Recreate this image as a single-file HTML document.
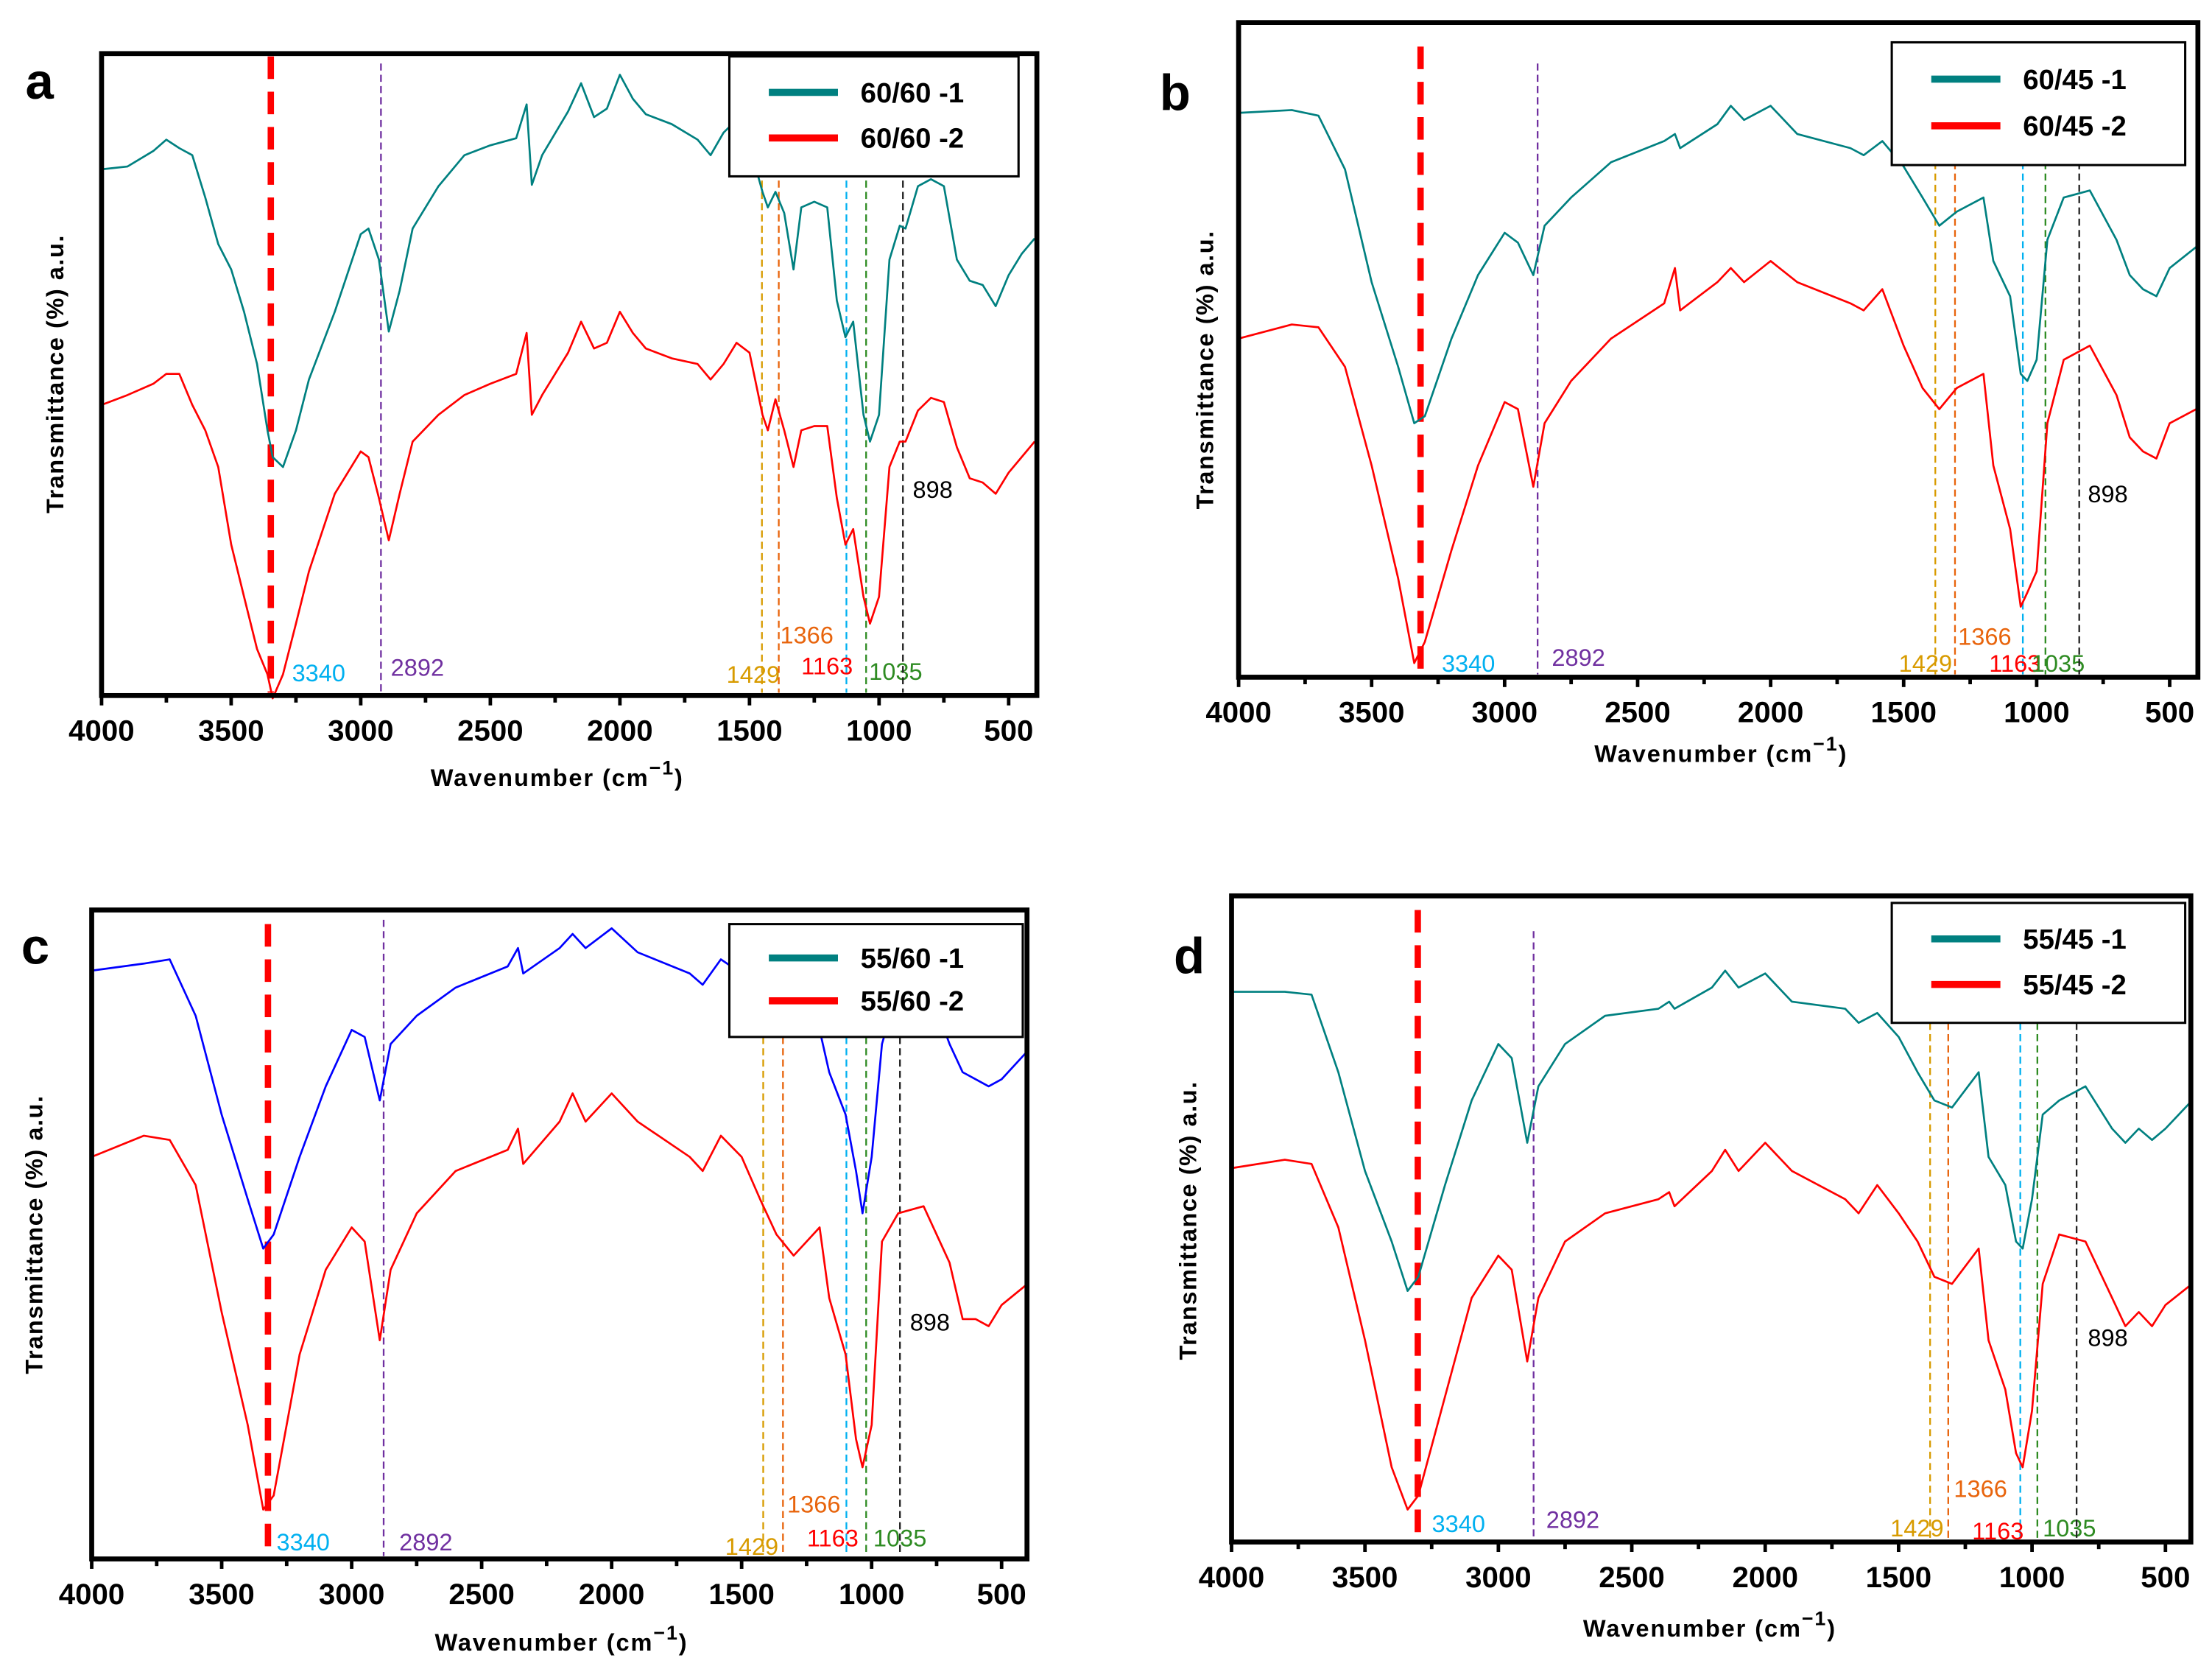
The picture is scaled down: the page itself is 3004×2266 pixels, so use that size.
<!DOCTYPE html>
<html><head><meta charset="utf-8">
<style>
html,body{margin:0;padding:0;background:#fff;}
svg{display:block;font-family:"Liberation Sans",Arial,sans-serif;}
</style></head>
<body>
<svg id="fig" width="3004" height="2266" viewBox="0 0 1568 1183" preserveAspectRatio="none" xmlns="http://www.w3.org/2000/svg"></svg>
<script>
// ---------- data ----------
const waveFine = [4000,3900,3800,3750,3700,3650,3600,3550,3500,3450,3400,3360,3340,3300,3250,3200,3100,3000,2970,2930,2892,2850,2800,2700,2600,2500,2400,2360,2340,2300,2200,2150,2100,2050,2000,1950,1900,1800,1700,1650,1600,1550,1500,1450,1429,1400,1366,1330,1300,1250,1200,1163,1130,1100,1060,1035,1000,960,920,898,850,800,750,700,650,600,550,500,450,400];
const aSeries1 = [373,375,386,394,388,383,353,320,302,272,235,188,169,162,188,224,272,327,331,309,258,287,331,361,383,390,395,419,362,383,414,434,410,416,440,423,412,405,394,383,399,408,390,357,346,357,342,302,346,350,346,280,254,265,199,180,199,309,333,331,361,366,361,309,294,291,276,298,313,324];
const aSeries2 = [206,213,221,228,228,206,188,162,107,70,33,15,-2,15,51,88,143,173,169,140,110,143,180,199,213,221,228,257,199,213,243,265,246,250,272,257,246,239,235,224,235,250,243,199,188,210,188,162,188,191,191,140,107,118,70,51,70,162,180,180,202,211,208,176,154,151,143,158,169,180];

const waveCoarse = [4000,3800,3700,3600,3500,3400,3340,3300,3200,3100,3000,2950,2892,2850,2750,2600,2400,2360,2340,2200,2150,2100,2000,1900,1700,1650,1580,1500,1429,1366,1300,1200,1163,1100,1060,1035,1000,960,898,800,700,650,600,550,500,400];
const bSeries1 = [400,402,398,360,280,220,180,185,240,285,315,308,285,320,340,365,380,385,375,392,405,395,405,385,375,370,380,362,340,320,330,340,295,270,215,210,225,310,340,345,310,285,275,270,290,305];
const bSeries2 = [240,250,248,220,150,70,10,25,90,150,195,190,135,180,210,240,265,290,260,280,290,280,295,280,265,260,275,235,205,190,205,215,150,105,50,60,75,180,225,235,200,170,160,155,180,190];
const cSeries1 = [417,422,425,385,315,255,220,230,285,335,375,370,325,365,385,405,420,433,415,433,443,433,447,430,415,407,425,415,395,385,375,375,345,315,275,245,285,365,405,415,365,345,340,335,340,360];
const cSeries2 = [285,300,297,265,175,95,35,45,145,205,235,225,155,205,245,275,290,305,280,310,330,310,330,310,285,275,300,285,255,230,215,235,185,145,85,65,95,225,245,250,210,170,170,165,180,195];
const dSeries1 = [390,390,388,333,263,213,178,188,253,313,353,343,283,323,353,373,378,383,378,393,405,393,403,383,378,368,375,358,333,313,308,333,273,253,213,208,243,303,313,323,293,283,293,285,293,313];
const dSeries2 = [265,271,268,223,143,53,23,33,103,173,203,193,128,173,213,233,243,248,238,263,278,263,283,263,243,233,253,233,213,188,183,208,143,108,63,53,93,183,218,213,173,153,163,153,168,183];

const xTicks = [4000,3500,3000,2500,2000,1500,1000,500];
const markerLabels = ["3340","2892","1429","1366","1163","1035","898"];
const aMarkers = [3347,2922,1452,1387,1126,1050,908];
const bMarkers = [3316,2876,1381,1307,1052,967,840];
const cMarkers = [3322,2877,1417,1341,1097,1021,891];
const dMarkers = [3302,2868,1382,1314,1044,980,833];

// ---------- layout ----------
const NS="http://www.w3.org/2000/svg";
const svg=document.getElementById('fig');
function mk(tag,attrs,parent){const e=document.createElementNS(NS,tag);for(const k in attrs)e.setAttribute(k,attrs[k]);(parent||svg).appendChild(e);return e;}

const markerColors=["#ff0000","#7030a0","#d89b00","#e8640c","#00b0f0","#2e8b22","#222"];
const labelColors=["#00b0f0","#7030a0","#d89b00","#e8640c","#ff0000","#2e8b22","#000"];

const panels=[
 {id:"a",L:72,R:735,T:38,B:493,x500:715,s1:aSeries1,s2:aSeries2,w:waveFine,c1:"#008080",m:aMarkers,names:["60/60 -1","60/60 -2"],
  leg:[517,40,205,85],letter:[18,70],yt:[45,265],xt:[395,557],
  lab:[[207,483],[277,479],[515,484],[553,456],[568,478],[616,482],[647,353]],dashTop:[40,45,120]},
 {id:"b",L:878,R:1558,T:16,B:480,x500:1538,s1:bSeries1,s2:bSeries2,w:waveCoarse,c1:"#008080",m:bMarkers,names:["60/45 -1","60/45 -2"],
  leg:[1341,30,208,87],letter:[822,78],yt:[860,262],xt:[1220,540],
  lab:[[1022,476],[1100,472],[1346,476],[1388,457],[1410,476],[1440,476],[1480,356]],dashTop:[33,45,115]},
 {id:"c",L:65,R:728,T:645,B:1105,x500:710,s1:cSeries1,s2:cSeries2,w:waveCoarse,c1:"#0000ff",m:cMarkers,names:["55/60 -1","55/60 -2"],
  leg:[517,655,208,80],letter:[15,683],yt:[30,875],xt:[398,1170],
  lab:[[196,1099],[283,1099],[514,1102],[558,1072],[572,1096],[619,1096],[645,943]],dashTop:[655,652,735]},
 {id:"d",L:873,R:1553,T:635,B:1093,x500:1535,s1:dSeries1,s2:dSeries2,w:waveCoarse,c1:"#008080",m:dMarkers,names:["55/45 -1","55/45 -2"],
  leg:[1341,640,208,85],letter:[832,690],yt:[848,865],xt:[1212,1160],
  lab:[[1015,1086],[1096,1083],[1340,1089],[1385,1061],[1398,1091],[1448,1089],[1480,954]],dashTop:[645,660,725]}
];

panels.forEach(p=>{
  const g=mk('g',{});
  
  
  const k=(p.x500-p.L)/3500;
  const X=w=>p.L+(4000-w)*k;
  const H=p.B-p.T;
  const Y=v=>p.B-v;
  p.m.forEach((wn,i)=>{
    const top = i===0?p.dashTop[0]:(i===1?p.dashTop[1]:p.dashTop[2]);
    const ln=mk('line',{x1:X(wn),x2:X(wn),y1:top,y2:p.B-2,stroke:markerColors[i],
      'stroke-width':i===0?4.5:1.2,'stroke-dasharray':i===0?'16,9':'5,3'},g);
    
    
    const t=mk('text',{x:p.lab[i][0],y:p.lab[i][1],fill:labelColors[i],'font-size':17,'font-family':'"Liberation Sans Narrow","Liberation Sans",sans-serif'},g);
    t.textContent=markerLabels[i];
    
    
  });
  [[p.s1,p.c1,1],[p.s2,"#ff0000",2]].forEach(([s,c,n])=>{
    const d=s.map((v,i)=>(i?'L':'M')+X(p.w[i]).toFixed(1)+','+Y(v).toFixed(1)).join('');
    const path=mk('path',{d:d,fill:'none',stroke:c,'stroke-width':1.4,'stroke-linejoin':'round'},g);
    
    
  });
  const fr=mk('rect',{x:p.L,y:p.T,width:p.R-p.L,height:H,fill:'none',stroke:'#000','stroke-width':3.5},g);
  
  
  for(let w=4000;w>=500;w-=250){
    const tk=mk('line',{x1:X(w),x2:X(w),y1:p.B,y2:p.B+(w%500===0?7:5),stroke:'#000','stroke-width':2.5},g);
    
    
  }
  xTicks.forEach(w=>{
    const t=mk('text',{x:X(w),y:p.B+32,'text-anchor':'middle','font-size':21,'font-weight':'bold'},g);
    t.textContent=w;
    
    
  });
  const xt=mk('text',{x:p.xt[0],y:p.xt[1],'text-anchor':'middle','font-size':17,'font-weight':'bold','letter-spacing':'1'},g);
  xt.innerHTML='Wavenumber (cm<tspan dy="-8" font-size="14">&#8722;1</tspan><tspan dy="8">)</tspan>';
  
  
  const yt=mk('text',{x:0,y:0,transform:`translate(${p.yt[0]},${p.yt[1]}) rotate(-90)`,'text-anchor':'middle','font-size':17,'font-weight':'bold','letter-spacing':'0.8'},g);
  yt.textContent='Transmittance (%) a.u.';
  
  
  const lt=mk('text',{x:p.letter[0],y:p.letter[1],'font-size':36,'font-weight':'bold'},g);
  lt.textContent=p.id;
  
  
  const [lx,ly,lw,lh]=p.leg;
  const lg=mk('g',{},g);
  
  
  mk('rect',{x:lx,y:ly,width:lw,height:lh,fill:'#fff',stroke:'#000','stroke-width':1.6},lg);
  [["#008080",0],["#ff0000",1]].forEach(([c,i])=>{
    const cy=ly+lh*(i===0?0.3:0.68);
    const e=mk('line',{x1:lx+28,x2:lx+77,y1:cy,y2:cy,stroke:c,'stroke-width':5},lg);
    
    
    const t=mk('text',{x:lx+93,y:cy+7,'font-size':20,'font-weight':'bold','font-family':'"Liberation Sans Narrow","Liberation Sans",sans-serif'},lg);
    t.textContent=p.names[i];
    
    
  });
});
</script>
</body></html>
